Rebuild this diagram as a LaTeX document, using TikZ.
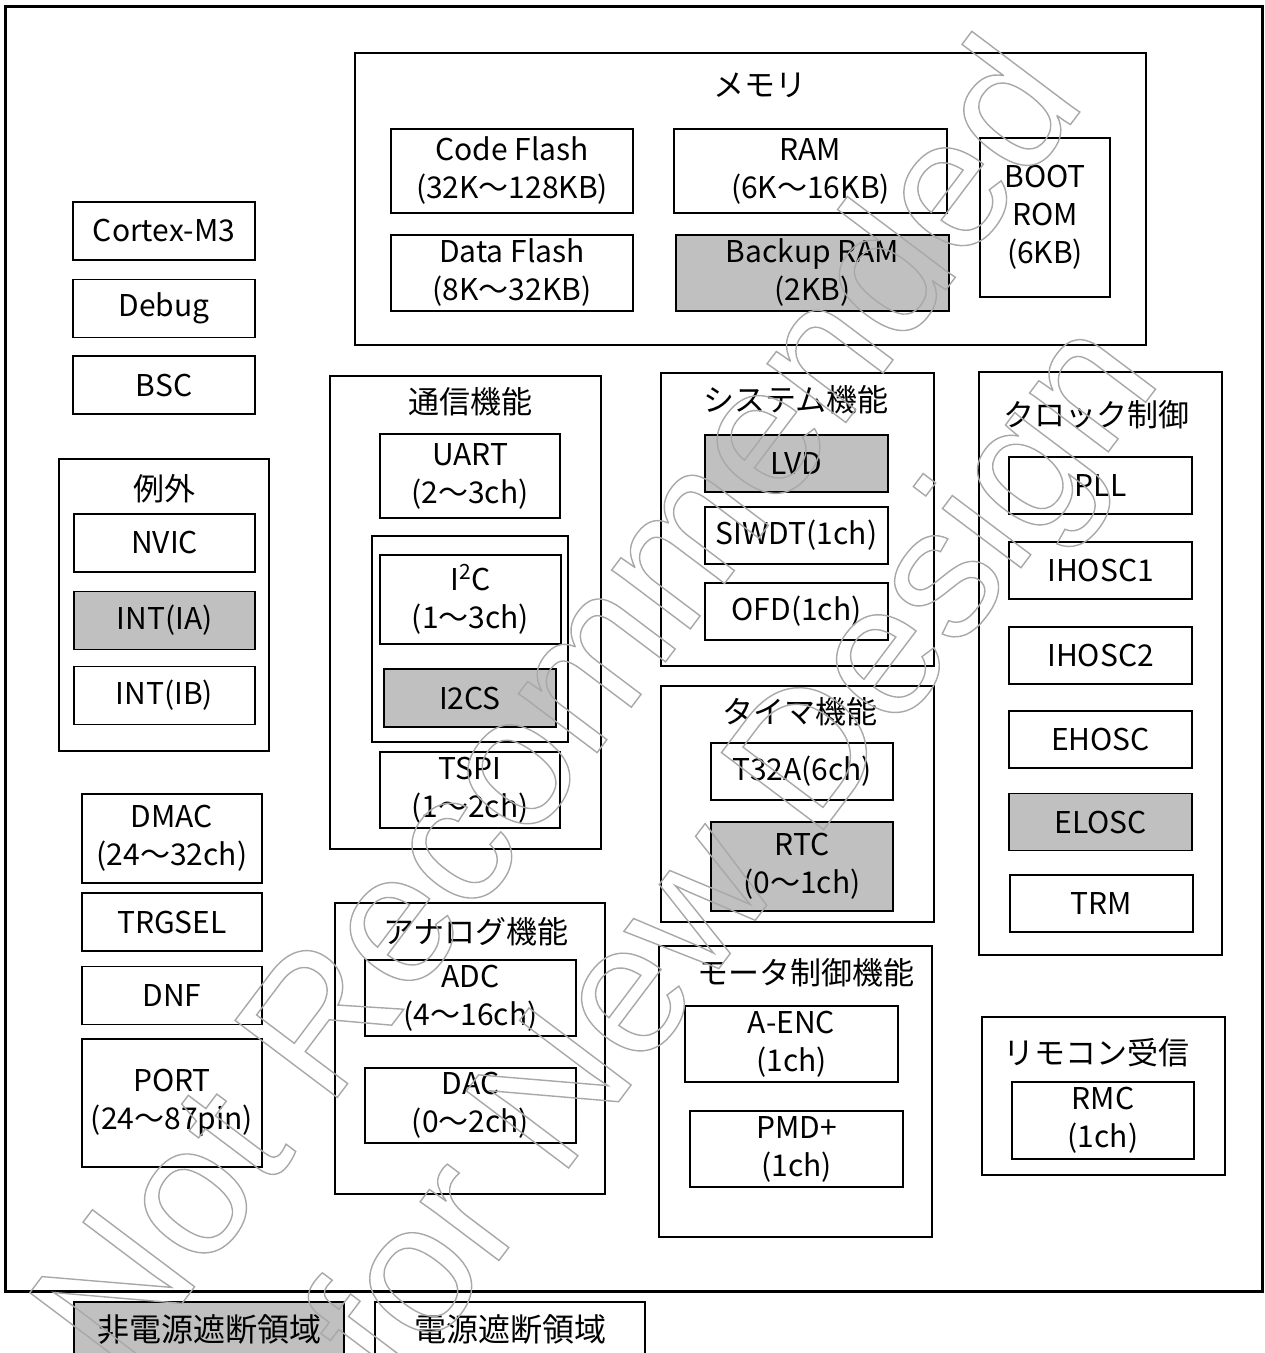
\documentclass[tikz,border=0pt]{standalone}
\usepackage{fontspec}
\setmainfont{Noto Sans CJK JP}
\newfontfamily\wmfont{Liberation Sans}
\usetikzlibrary{positioning}
\definecolor{mcLine}{HTML}{000000}
\definecolor{mcOffF}{HTML}{C0C0C0}
\definecolor{mcWm}{HTML}{A8A8A8}
% outline-only text (stroke render mode)
\newcommand{\wmoutline}[1]{\special{pdf:literal direct 1 Tr 0.7 w}#1\special{pdf:literal direct 0 Tr}}
\tikzset{
  mcBase/.style={rectangle, draw=mcLine, fill=white, line width=0.8pt,
                 align=center, inner sep=0pt, font=\fontsize{15}{19}\selectfont},
  mcBlk/.style={mcBase, minimum width=91pt, minimum height=29pt},
  mcOff/.style={fill=mcOffF},
  mcGrp/.style={rectangle, draw=mcLine, line width=1.2pt, inner sep=0pt},
  mcTitle/.style={font=\fontsize{15.5}{18}\selectfont, inner sep=0pt},
  mcLegend/.style={mcBase, line width=0.9pt, minimum width=135pt, minimum height=27pt,
                   font=\fontsize{16}{18}\selectfont},
  mcWmText/.style={font=\wmfont\fontsize{93}{103}\selectfont, text=mcWm,
                   rotate=53, inner sep=0pt},
}

\begin{document}
\begin{tikzpicture}[x=0.5pt, y=-0.5pt]

  \useasboundingbox (0,0) rectangle (1264,1353);

  % ─── Chip outline ─────────────────────────────────────────────────────────────
  \node[mcGrp, line width=1.5pt, minimum width=628.5pt, minimum height=642pt] (chip) at (633.5,649) {};

  % ─── Left column: core, exceptions, DMA, ports ───────────────────────────────
  \node[mcBlk] (cpu) at (164,231) {Cortex-M3};
  \node[mcBlk, below=9pt of cpu]  (dbg) {Debug};
  \node[mcBlk, below=8.5pt of dbg] (bsc) {BSC};

  \node[mcGrp, minimum width=105pt, minimum height=146pt] (exc) at (164,605) {};
  \node[mcTitle] (excT) at (164,489) {例外};
  \node[mcBlk, minimum width=90.5pt] (nvic) at (164.5,543) {NVIC};
  \node[mcBlk, mcOff, minimum width=90.5pt] (inta) at (164.5,620.5) {INT(IA)};
  \node[mcBlk, minimum width=90.5pt] (intb) at (164.5,695.5) {INT(IB)};

  \node[mcBlk, minimum width=90pt, minimum height=44.5pt] (dmac) at (172,838.5) {DMAC\\(24～32ch)};
  \node[mcBlk, minimum width=90pt] (trg) at (172,922) {TRGSEL};
  \node[mcBlk, minimum width=90pt] (dnf) at (172,995.5) {DNF};
  \node[mcBlk, minimum width=90pt, minimum height=64pt] (port) at (172,1103) {PORT\\(24～87pin)};

  % ─── Memory ───────────────────────────────────────────────────────────────────
  \node[mcGrp, minimum width=395.5pt, minimum height=146pt] (mem) at (750.5,199) {};
  \node[mcTitle] (memT) at (760,85) {メモリ};
  \node[mcBlk, minimum width=121pt, minimum height=42pt] (cflash) at (512,171) {Code Flash\\(32K～128KB)};
  \node[mcBlk, minimum width=121pt, minimum height=38pt] (dflash) at (512,273) {Data Flash\\(8K～32KB)};
  \node[mcBlk, minimum width=136.5pt, minimum height=42pt] (ram) at (810.5,171) {RAM\\(6K～16KB)};
  \node[mcBlk, mcOff, minimum width=136.5pt, minimum height=38pt] (bram) at (812.5,273) {Backup RAM\\(2KB)};
  \node[mcBlk, minimum width=65pt, minimum height=79.5pt] (boot) at (1045,217.5) {BOOT\\ROM\\(6KB)};

  % ─── Communication ────────────────────────────────────────────────────────────
  \node[mcGrp, minimum width=135.5pt, minimum height=236.5pt] (com) at (465.5,612.5) {};
  \node[mcTitle] (comT) at (470,402) {通信機能};
  \node[mcBlk, minimum width=90pt, minimum height=42pt] (uart) at (470,476) {UART\\(2～3ch)};
  \node[mcGrp, line width=0.8pt, minimum width=98pt, minimum height=103pt] (i2cg) at (470,639) {};
  \node[mcBlk, minimum width=90.5pt, minimum height=44.5pt] (i2c) at (470.5,599.5) {I\textsuperscript{2}C\\(1～3ch)};
  \node[mcBlk, mcOff, minimum width=86pt] (i2cs) at (470,698) {I2CS};
  \node[mcBlk, minimum width=90pt, minimum height=38pt] (tspi) at (470,790) {TSPI\\(1～2ch)};

  % ─── Analog ───────────────────────────────────────────────────────────────────
  \node[mcGrp, minimum width=135pt, minimum height=145.5pt] (ana) at (470,1048.5) {};
  \node[mcTitle] (anaT) at (476,932) {アナログ機能};
  \node[mcBlk, minimum width=105.5pt, minimum height=38pt] (adc) at (470.5,998) {ADC\\(4～16ch)};
  \node[mcBlk, minimum width=105.5pt, minimum height=37.5pt] (dac) at (470.5,1105.5) {DAC\\(0～2ch)};

  % ─── System ───────────────────────────────────────────────────────────────────
  \node[mcGrp, minimum width=136.5pt, minimum height=146.5pt] (sys) at (797.5,519.5) {};
  \node[mcTitle] (sysT) at (796,400) {システム機能};
  \node[mcBlk, mcOff, minimum width=91.5pt, minimum height=28.5pt] (lvd) at (796.5,463.5) {LVD};
  \node[mcBlk, minimum width=91.5pt, minimum height=28.5pt] (siwdt) at (796.5,535.5) {SIWDT(1ch)};
  \node[mcBlk, minimum width=91.5pt, minimum height=28.5pt] (ofd) at (796.5,611.5) {OFD(1ch)};

  % ─── Timer ────────────────────────────────────────────────────────────────────
  \node[mcGrp, minimum width=136.5pt, minimum height=118pt] (tmr) at (797.5,804) {};
  \node[mcTitle] (tmrT) at (800,712) {タイマ機能};
  \node[mcBlk, minimum height=28.5pt] (t32a) at (802,771.5) {T32A(6ch)};
  \node[mcBlk, mcOff, minimum height=44.5pt] (rtc) at (802,866.5) {RTC\\(0～1ch)};

  % ─── Motor control ────────────────────────────────────────────────────────────
  \node[mcGrp, minimum width=136.5pt, minimum height=145.5pt] (mot) at (795.5,1091.5) {};
  \node[mcTitle] (motT) at (806,973) {モータ制御機能};
  \node[mcBlk, minimum width=106.5pt, minimum height=38pt] (aenc) at (791.5,1044) {A-ENC\\(1ch)};
  \node[mcBlk, minimum width=106.5pt, minimum height=38pt] (pmd) at (796.5,1149) {PMD+\\(1ch)};

  % ─── Clock control ────────────────────────────────────────────────────────────
  \node[mcGrp, minimum width=121.5pt, minimum height=291.5pt] (clk) at (1100.5,663.5) {};
  \node[mcTitle] (clkT) at (1096,415) {クロック制御};
  \node[mcBlk, minimum width=91.5pt, minimum height=28.5pt] (pll) at (1100.5,485.5) {PLL};
  \node[mcBlk, minimum width=91.5pt, minimum height=28.5pt] (ih1) at (1100.5,570.5) {IHOSC1};
  \node[mcBlk, minimum width=91.5pt, minimum height=28.5pt] (ih2) at (1100.5,655.5) {IHOSC2};
  \node[mcBlk, minimum width=91.5pt, minimum height=28.5pt] (eh)  at (1100.5,739.5) {EHOSC};
  \node[mcBlk, mcOff, minimum width=91.5pt, minimum height=28.5pt] (el) at (1100.5,822) {ELOSC};
  \node[mcBlk, minimum width=91.5pt, minimum height=28.5pt] (trm) at (1101.5,903.5) {TRM};

  % ─── Remote control receiver ──────────────────────────────────────────────────
  \node[mcGrp, minimum width=121.5pt, minimum height=79pt] (rmt) at (1103.5,1096) {};
  \node[mcTitle] (rmtT) at (1096,1053) {リモコン受信};
  \node[mcBlk, minimum height=38.5pt] (rmc) at (1103,1120.5) {RMC\\(1ch)};

  % ─── Legend ───────────────────────────────────────────────────────────────────
  \node[mcLegend, mcOff] (lgOff) at (209,1329) {非電源遮断領域};
  \node[mcLegend] (lgOn) at (510,1329) {電源遮断領域};

  % ─── Watermark, outline only ──────────────────────────────────────────────────
  \node[mcWmText] (wm1) at (552,702) {\wmoutline{Not Recommended}};
  \node[mcWmText] (wm2) at (742,858) {\wmoutline{for New Design}};

\end{tikzpicture}
\end{document}
